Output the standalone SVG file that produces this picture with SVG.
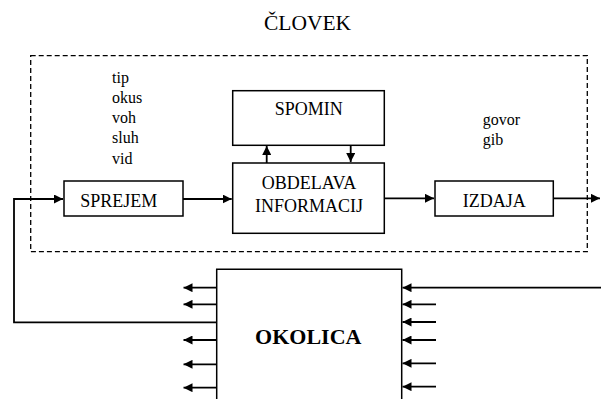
<svg xmlns="http://www.w3.org/2000/svg" width="601" height="399" viewBox="0 0 601 399">
<style>
  .box { fill: #fff; stroke: #000; stroke-width: 1.5; }
  .ln { fill: none; stroke: #000; stroke-width: 1.8; }
  text { font-family: "Liberation Serif", Tinos, "Times New Roman", Times, "DejaVu Serif", serif; fill: #000; }
  .t { font-size: 18px; }
  .s { font-size: 16px; }
</style>
<defs>
  <marker id="ah" viewBox="0 0 10 10" refX="10" refY="5" markerWidth="9" markerHeight="9" markerUnits="userSpaceOnUse" orient="auto">
    <path d="M0,0 L10,5 L0,10 z" fill="#000"/>
  </marker>
</defs>
<rect width="601" height="399" fill="#fff"/>
<g id="clovek">
  <rect x="30.7" y="55.7" width="556.6" height="196" fill="none" stroke="#000" stroke-width="1.3" stroke-dasharray="5,3"/>
  <text x="307.5" y="30" text-anchor="middle" font-size="21.5">ČLOVEK</text>
</g>
<g id="senses">
  <text class="s" x="112" y="83">tip</text>
  <text class="s" x="112" y="103">okus</text>
  <text class="s" x="112" y="123">voh</text>
  <text class="s" x="112" y="143">sluh</text>
  <text class="s" x="112" y="164">vid</text>
</g>
<g id="outputs">
  <text class="s" x="482.7" y="125">govor</text>
  <text class="s" x="482.7" y="145">gib</text>
</g>
<g id="sprejem">
  <rect class="box" x="64" y="181" width="119" height="35"/>
  <text class="t" x="118.8" y="206.7" text-anchor="middle">SPREJEM</text>
</g>
<g id="spomin">
  <rect class="box" x="232.7" y="90.7" width="151.6" height="54.6"/>
  <text class="t" x="308.7" y="115" text-anchor="middle">SPOMIN</text>
</g>
<g id="obdelava">
  <rect class="box" x="232.7" y="163" width="151.6" height="70.3"/>
  <text class="t" x="309" y="189.3" text-anchor="middle">OBDELAVA</text>
  <text class="t" x="309" y="211.7" text-anchor="middle">INFORMACIJ</text>
</g>
<g id="izdaja">
  <rect class="box" x="435" y="181" width="118.3" height="35"/>
  <text class="t" x="494.3" y="207.3" text-anchor="middle">IZDAJA</text>
</g>
<g id="okolica">
  <path class="box" d="M216.7,401 V269.3 H401.7 V401"/>
  <text x="308.3" y="344" text-anchor="middle" font-size="22" font-weight="bold">OKOLICA</text>
</g>
<g id="connectors">
  <path class="ln" d="M216.7,322.3 H14 V199 H63" marker-end="url(#ah)"/>
  <path class="ln" d="M183,199 H231.7" marker-end="url(#ah)"/>
  <path class="ln" d="M266.7,163 V146" marker-end="url(#ah)"/>
  <path class="ln" d="M350.7,145.3 V162" marker-end="url(#ah)"/>
  <path class="ln" d="M384.3,198.3 H434" marker-end="url(#ah)"/>
  <path class="ln" d="M553.3,198.3 H600" marker-end="url(#ah)"/>
  <path class="ln" d="M216.7,287.7 H183.5" marker-end="url(#ah)"/>
  <path class="ln" d="M216.7,304.3 H183.5" marker-end="url(#ah)"/>
  <path class="ln" d="M216.7,340 H183.5" marker-end="url(#ah)"/>
  <path class="ln" d="M216.7,364.3 H183.5" marker-end="url(#ah)"/>
  <path class="ln" d="M216.7,387.7 H183.5" marker-end="url(#ah)"/>
  <path class="ln" d="M601,287.7 H402.5" marker-end="url(#ah)"/>
  <path class="ln" d="M436,304.3 H402.5" marker-end="url(#ah)"/>
  <path class="ln" d="M436,322 H402.5" marker-end="url(#ah)"/>
  <path class="ln" d="M436,340 H402.5" marker-end="url(#ah)"/>
  <path class="ln" d="M436,363.3 H402.5" marker-end="url(#ah)"/>
  <path class="ln" d="M436,386.7 H402.5" marker-end="url(#ah)"/>
</g>
</svg>
